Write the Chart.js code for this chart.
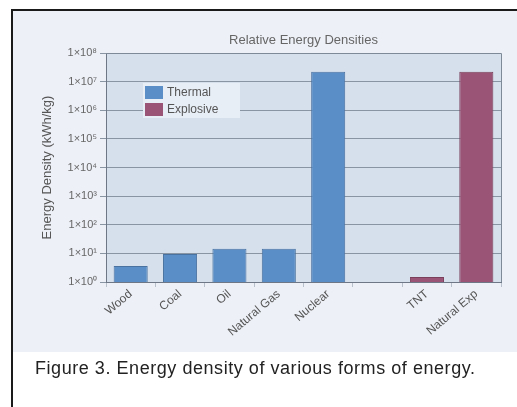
<!DOCTYPE html>
<html>
<head>
<meta charset="utf-8">
<script src="https://cdn.jsdelivr.net/npm/chart.js@4/dist/chart.umd.min.js"></script>
<style>
  html, body { margin: 0; padding: 0; background: #ffffff; }
  #wrap { position: relative; width: 517px; height: 407px; overflow: hidden; background: #ffffff; }
  #frame { position: absolute; left: 11px; top: 9px; width: 520px; height: 420px;
           border-left: 2px solid #1a1a1a; border-top: 2px solid #1a1a1a; background: #ffffff; }
  #panel { position: absolute; left: 13px; top: 11px; width: 504px; height: 341px; background: #edf0f7; }
  #chart { position: absolute; left: 0; top: 0; }
  #caption { position: absolute; left: 35px; top: 358px; font-family: "Liberation Sans", Arial, sans-serif;
             font-size: 18px; letter-spacing: 0.55px; color: #222; white-space: nowrap; }
</style>
</head>
<body>
<div id="wrap">
  <div id="frame"></div>
  <div id="panel"></div>
  <canvas id="chart" width="517" height="407"></canvas>
  <div id="caption">Figure 3. Energy density of various forms of energy.</div>
</div>
<script>
// ---- data ----
const categories = ['Wood', 'Coal', 'Oil', 'Natural Gas', 'Nuclear', '', 'TNT', 'Natural Exp'];
const thermalValues = [3.6, 9.5, 14.5, 14.5, 2.2e7, null, null, null];
const explosiveValues = [null, null, null, null, null, null, 1.5, 2.2e7];
const tickValues = [1, 1e1, 1e2, 1e3, 1e4, 1e5, 1e6, 1e7, 1e8];
const tickLabels = ['1×10⁰', '1×10¹', '1×10²', '1×10³', '1×10⁴', '1×10⁵', '1×10⁶', '1×10⁷', '1×10⁸'];
const seriesNames = ['Thermal', 'Explosive'];
const chartTitle = 'Relative Energy Densities';
const yTitle = 'Energy Density (kWh/kg)';

const FONT = '"Liberation Sans", Arial, sans-serif';

const plotBg = {
  id: 'plotBg',
  beforeDraw(chart) {
    const {ctx, chartArea: a} = chart;
    ctx.save();
    ctx.fillStyle = '#d6e0ed';
    ctx.fillRect(a.left, a.top, a.right - a.left, a.bottom - a.top);
    ctx.restore();
  },
  afterDatasetsDraw(chart) {
    const {ctx, chartArea: a} = chart;
    ctx.save();
    ctx.strokeStyle = '#7f8a98';
    ctx.lineWidth = 1;
    ctx.beginPath();
    ctx.moveTo(a.left, a.top + 0.5);
    ctx.lineTo(a.right + 0.5, a.top + 0.5);
    ctx.lineTo(a.right + 0.5, a.bottom);
    ctx.stroke();
    ctx.restore();
  }
};

const boxLegend = {
  id: 'boxLegend',
  afterDraw(chart) {
    const {ctx, chartArea: a} = chart;
    const x0 = a.left + 37, y0 = a.top + 30;
    ctx.save();
    ctx.fillStyle = '#e8eef6';
    ctx.fillRect(x0, y0, 97, 35);
    chart.data.datasets.forEach((ds, i) => {
      const y = y0 + 3 + i * 17;
      ctx.fillStyle = ds.backgroundColor;
      ctx.fillRect(x0 + 2, y, 18, 13);
      ctx.fillStyle = '#555';
      ctx.font = '12px ' + FONT;
      ctx.textBaseline = 'middle';
      ctx.textAlign = 'left';
      ctx.fillText(ds.label, x0 + 24, y + 7);
    });
    ctx.restore();
  }
};

new Chart(document.getElementById('chart'), {
  type: 'bar',
  data: {
    labels: categories,
    datasets: [
      { label: seriesNames[0], data: thermalValues, backgroundColor: '#5a8ec6', borderColor: '#4a72a0', borderWidth: 1 },
      { label: seriesNames[1], data: explosiveValues, backgroundColor: '#9a5476', borderColor: '#7a3f5a', borderWidth: 1 }
    ]
  },
  options: {
    responsive: false,
    animation: false,
    devicePixelRatio: 1,
    layout: { padding: { left: 0, right: 16, top: 0, bottom: 55 } },
    datasets: { bar: { categoryPercentage: 1, barPercentage: 0.69 } },
    plugins: {
      legend: { display: false },
      tooltip: { enabled: false },
      title: {
        display: true, text: chartTitle, fullSize: false, color: '#666',
        font: { family: FONT, size: 13, weight: 'normal' },
        padding: { top: 32.7, bottom: 4.7 }
      }
    },
    scales: {
      x: {
        stacked: true,
        grid: { offset: true, drawOnChartArea: false, color: '#b8c0cc', tickLength: 5 },
        border: { color: '#6d7785', width: 1 },
        ticks: { color: '#555', font: { family: FONT, size: 12 }, minRotation: 40, maxRotation: 40, padding: 0, autoSkip: false },
        afterFit(s) { s.height = 70; }
      },
      y: {
        type: 'logarithmic',
        min: 1, max: 1e8,
        grid: { color: '#8a95a3', lineWidth: 1, tickLength: 6 },
        border: { color: '#6d7785', width: 1 },
        title: { display: true, text: yTitle, color: '#555', font: { family: FONT, size: 13 }, padding: { top: 40 } },
        ticks: {
          color: '#666', font: { family: FONT, size: 11 }, padding: 3,
          callback: (v) => { const i = tickValues.indexOf(v); return i >= 0 ? tickLabels[i] : null; }
        },
        afterBuildTicks(s) { s.ticks = tickValues.map(v => ({ value: v })); },
        afterFit(s) { s.width = 106; }
      }
    }
  },
  plugins: [plotBg, boxLegend]
});
</script>
</body>
</html>
